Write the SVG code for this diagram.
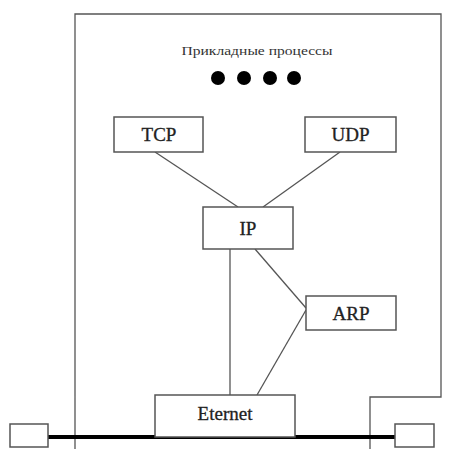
<svg xmlns="http://www.w3.org/2000/svg" width="450" height="449" viewBox="0 0 450 449">
<style>
.box{fill:#fff;stroke:#555;stroke-width:1.5}
.ln{stroke:#555;stroke-width:1.3;fill:none}
.lbl{font-family:"Liberation Serif",serif;font-size:19px;fill:#222;stroke:#222;stroke-width:0.3;text-anchor:middle}
</style>
<rect width="450" height="449" fill="#fff"/>
<g id="frame">
<path class="ln" d="M75,449 V14 H441 V397 H370 V449" stroke-width="1.5"/>
</g>
<g id="title">
<text x="257" y="55" font-family="Liberation Serif,serif" font-size="13" fill="#333" text-anchor="middle" textLength="151" lengthAdjust="spacingAndGlyphs">Прикладные процессы</text>
<circle cx="218" cy="78" r="7" fill="#000"/>
<circle cx="244" cy="78" r="7" fill="#000"/>
<circle cx="270" cy="78" r="7" fill="#000"/>
<circle cx="294" cy="78" r="7" fill="#000"/>
</g>
<g id="connectors">
<line class="ln" x1="155" y1="152" x2="238" y2="207"/>
<line class="ln" x1="340" y1="152" x2="263" y2="207"/>
<line class="ln" x1="230" y1="249" x2="230" y2="395"/>
<line class="ln" x1="255" y1="249" x2="306" y2="308"/>
<line class="ln" x1="306" y1="310" x2="257" y2="395"/>
<line x1="48" y1="437" x2="395" y2="437" stroke="#000" stroke-width="4"/>
</g>
<g id="tcp">
<rect class="box" x="114" y="117" width="89" height="35"/>
<text class="lbl" x="159" y="141">TCP</text>
</g>
<g id="udp">
<rect class="box" x="305" y="117" width="91" height="35"/>
<text class="lbl" x="350.5" y="141">UDP</text>
</g>
<g id="ip">
<rect class="box" x="203" y="207" width="90" height="42"/>
<text class="lbl" x="248" y="235">IP</text>
</g>
<g id="arp">
<rect class="box" x="306" y="296" width="90" height="34"/>
<text class="lbl" x="351" y="320">ARP</text>
</g>
<g id="eternet">
<rect class="box" x="155" y="395" width="140" height="42"/>
<text class="lbl" x="225" y="420">Eternet</text>
</g>
<g id="left-node">
<rect class="box" x="10" y="424" width="38" height="23"/>
</g>
<g id="right-node">
<rect class="box" x="395" y="424" width="39" height="23"/>
</g>
</svg>
